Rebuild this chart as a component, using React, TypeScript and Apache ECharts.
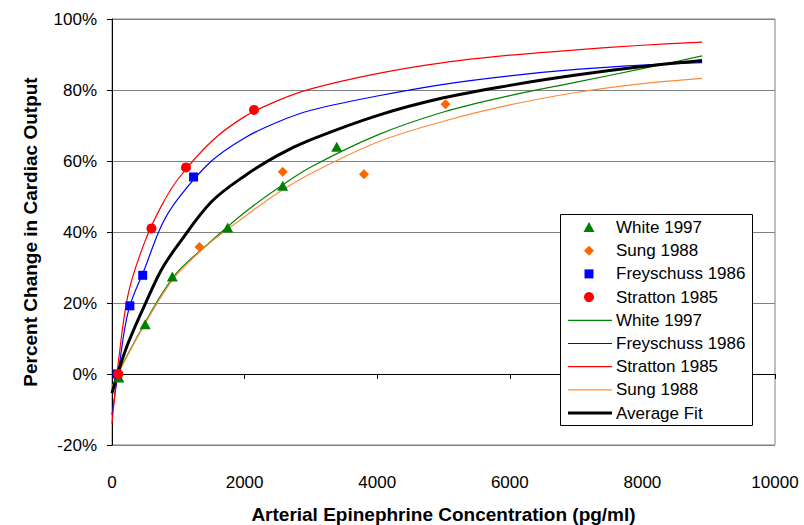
import React, { useEffect, useRef } from "react";
import * as echarts from "echarts";

// Fitted curves (x in pg/ml, y in %)
const fitX = [0, 100, 250, 500, 750, 1000, 1500, 2000, 2500, 3000, 4000, 5000, 6000, 7000, 8000, 8900];
const whiteFit = [-3.6, 0.5, 6, 14.5, 22.5, 29, 37.5, 45.5, 52.3, 58.3, 67.3, 73.8, 78.4, 82.2, 86, 89.6];
const freyschussFit = [-11.5, 1.2, 18, 30, 42, 49.5, 60, 66.5, 71, 74.3, 78.3, 81.6, 84, 85.8, 87, 87.7];
const strattonFit = [-14, 4, 23, 37.5, 47.5, 55, 65.5, 72.5, 77, 80.3, 84.6, 87.7, 89.8, 91.3, 92.6, 93.5];
const sungFit = [-3.6, 0.3, 5.8, 14.2, 22, 28.5, 37.3, 44.3, 51, 56.5, 65.3, 71.2, 75.8, 79.3, 81.8, 83.3];
const averageFit = [-5.4, 1, 9, 19.7, 29.5, 36.5, 48.5, 55.8, 61.6, 66, 72.8, 77.8, 81.3, 84.2, 86.6, 88.3];

// Observed data points
const whiteX = [105, 500, 910, 1745, 2575, 3390];
const whiteY = [-1, 14, 27.5, 41.3, 53, 64];
const sungX = [1320, 2575, 3800, 5030];
const sungY = [35.8, 57, 56.3, 76];
const freyX = [75, 270, 463, 1230];
const freyY = [0, 19.2, 27.8, 55.5];
const stratX = [95, 595, 1116, 2142];
const stratY = [0, 41, 58.2, 74.4];

// Axis ticks
const xTicks = [0, 2000, 4000, 6000, 8000, 10000];
const yTicks = [-20, 0, 20, 40, 60, 80, 100];

const legendItems = [
  { name: "White 1997", kind: "triangle", color: "#008000" },
  { name: "Sung 1988", kind: "diamond", color: "#FF6600" },
  { name: "Freyschuss 1986", kind: "square", color: "#0000FF" },
  { name: "Stratton 1985", kind: "circle", color: "#FF0000" },
  { name: "White 1997", kind: "line", color: "#008000", w: 1.2 },
  { name: "Freyschuss 1986", kind: "line", color: "#0000FF", w: 1.2 },
  { name: "Stratton 1985", kind: "line", color: "#FF0000", w: 1.2 },
  { name: "Sung 1988", kind: "line", color: "#FF8C3A", w: 1.2 },
  { name: "Average Fit", kind: "line", color: "#000000", w: 3 },
];

const FONT = "'Liberation Sans', Arial, sans-serif";

function zip(xs: number[], ys: number[]) {
  return xs.map((x, i) => [x, ys[i]]);
}

export default function App() {
  const ref = useRef<HTMLDivElement>(null);
  useEffect(() => {
    if (!ref.current) return;
    const chart = echarts.init(ref.current, undefined, { renderer: "svg" });

    const legendGraphics: any[] = [
      {
        type: "rect",
        shape: { x: 560.5, y: 214.5, width: 192, height: 211 },
        style: { fill: "#fff", stroke: "#000", lineWidth: 1 },
        z: 100,
      },
    ];
    legendItems.forEach((it, i) => {
      const y = 227.5 + i * 23.2;
      const cx = 589;
      if (it.kind === "triangle") {
        legendGraphics.push({ type: "polygon", shape: { points: [[cx, y - 5.5], [cx + 5.5, y + 4.5], [cx - 5.5, y + 4.5]] }, style: { fill: it.color }, z: 101 });
      } else if (it.kind === "diamond") {
        legendGraphics.push({ type: "polygon", shape: { points: [[cx, y - 5], [cx + 5, y], [cx, y + 5], [cx - 5, y]] }, style: { fill: it.color }, z: 101 });
      } else if (it.kind === "square") {
        legendGraphics.push({ type: "rect", shape: { x: cx - 4.5, y: y - 4.5, width: 9, height: 9 }, style: { fill: it.color }, z: 101 });
      } else if (it.kind === "circle") {
        legendGraphics.push({ type: "circle", shape: { cx, cy: y, r: 5 }, style: { fill: it.color }, z: 101 });
      } else {
        legendGraphics.push({ type: "line", shape: { x1: 568, y1: y, x2: 612, y2: y }, style: { stroke: it.color, lineWidth: it.w }, z: 101 });
      }
      legendGraphics.push({
        type: "text",
        x: 616,
        y,
        style: { text: it.name, fill: "#000", font: `17px ${FONT}`, verticalAlign: "middle", align: "left" },
        z: 101,
      });
    });

    const lineSeries = (name: string, data: number[], color: string, width: number, z: number) => ({
      name,
      type: "line",
      data: zip(fitX, data),
      showSymbol: false,
      symbol: "none",
      smooth: 0.35,
      lineStyle: { color, width },
      itemStyle: { color },
      z,
    });

    chart.setOption({
      animation: false,
      backgroundColor: "#fff",
      grid: {
        left: 112,
        right: 29,
        top: 19,
        bottom: 80,
        containLabel: false,
        outerBoundsMode: "none",
        show: true,
        borderColor: "#808080",
        borderWidth: 1,
        backgroundColor: "transparent",
      },
      xAxis: {
        type: "value",
        min: xTicks[0],
        max: xTicks[xTicks.length - 1],
        interval: 2000,
        name: "Arterial Epinephrine Concentration (pg/ml)",
        nameLocation: "middle",
        nameGap: 60,
        nameTextStyle: { fontFamily: FONT, fontWeight: "bold", fontSize: 19, color: "#000" },
        axisLine: { lineStyle: { color: "#000", width: 1 } },
        axisTick: { show: true, inside: false, length: 5, lineStyle: { color: "#000" } },
        axisLabel: { fontFamily: FONT, fontSize: 17, color: "#000", margin: 29, formatter: (v: number) => String(v) },
        splitLine: { show: false },
      },
      yAxis: {
        type: "value",
        min: yTicks[0],
        max: yTicks[yTicks.length - 1],
        interval: 20,
        name: "Percent Change in Cardiac Output",
        nameLocation: "middle",
        nameGap: 72,
        nameRotate: 90,
        nameTextStyle: { fontFamily: FONT, fontWeight: "bold", fontSize: 19, color: "#000" },
        axisLine: { show: true, lineStyle: { color: "#000", width: 1 } },
        axisTick: { show: true, inside: false, length: 5, lineStyle: { color: "#000" } },
        axisLabel: { fontFamily: FONT, fontSize: 17, color: "#000", margin: 15, formatter: (v: number) => `${v}%` },
        splitLine: { show: true, lineStyle: { color: "#808080", width: 1 } },
      },
      graphic: legendGraphics,
      series: [
        lineSeries("White 1997 fit", whiteFit, "#008000", 1.2, 2),
        lineSeries("Freyschuss 1986 fit", freyschussFit, "#0000FF", 1.2, 2),
        lineSeries("Stratton 1985 fit", strattonFit, "#FF0000", 1.2, 2),
        lineSeries("Sung 1988 fit", sungFit, "#FF8C3A", 1.2, 2),
        lineSeries("Average Fit", averageFit, "#000000", 3, 3),
        {
          name: "White 1997",
          type: "scatter",
          data: zip(whiteX, whiteY),
          symbol: "triangle",
          symbolSize: [11, 10],
          itemStyle: { color: "#008000", opacity: 1 },
          z: 5,
        },
        {
          name: "Sung 1988",
          type: "scatter",
          data: zip(sungX, sungY),
          symbol: "diamond",
          symbolSize: [10, 10],
          itemStyle: { color: "#FF6600", opacity: 1 },
          z: 5,
        },
        {
          name: "Freyschuss 1986",
          type: "scatter",
          data: zip(freyX, freyY),
          symbol: "rect",
          symbolSize: 9,
          itemStyle: { color: "#0000FF", opacity: 1 },
          z: 5,
        },
        {
          name: "Stratton 1985",
          type: "scatter",
          data: zip(stratX, stratY),
          symbol: "circle",
          symbolSize: 10,
          itemStyle: { color: "#FF0000", opacity: 1 },
          z: 5,
        },
      ],
    });
    return () => chart.dispose();
  }, []);

  return <div ref={ref} style={{ width: 804, height: 525, position: "absolute", left: 0, top: 0 }} />;
}
